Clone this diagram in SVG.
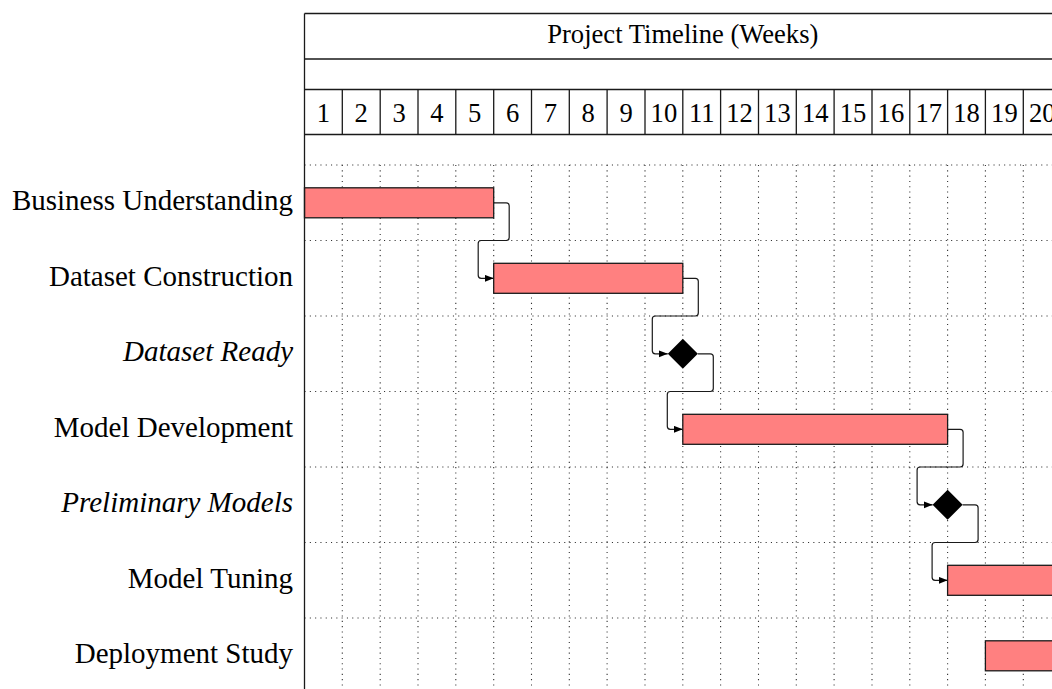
<svg xmlns="http://www.w3.org/2000/svg" width="1052" height="689" viewBox="0 0 1052 689">
  <defs>
    <style>
      .frame { stroke: #1a1a1a; stroke-width: 1.3; fill: none; }
      .grid { stroke: #333; stroke-width: 1.1; stroke-dasharray: 1.1 4.2; fill: none; }
      .bar { fill: #ff8080; stroke: #1a1a1a; stroke-width: 1.3; }
      .ms { fill: #000; }
      .link { stroke: #1a1a1a; stroke-width: 1.2; fill: none; marker-end: url(#latex); }
      .hdr { font-family: "Liberation Serif", "Times New Roman", serif; font-size: 26.6px; fill: #000; text-anchor: middle; }
      .lbl { font-family: "Liberation Serif", "Times New Roman", serif; font-size: 29px; fill: #000; text-anchor: end; }
      .it { font-style: italic; }
    </style>
    <marker id="latex" markerUnits="userSpaceOnUse" markerWidth="10" markerHeight="8" refX="9" refY="3.5" orient="auto">
      <path d="M0,0 L9,3.5 L0,7 Z" fill="#000"/>
    </marker>
  </defs>
  <rect width="1052" height="689" fill="#fff"/>

  <!-- background grid -->
  <g id="grid">
    <path class="grid" d="M304.5,165 H1052 M304.5,240.5 H1052 M304.5,316 H1052 M304.5,391.5 H1052 M304.5,467 H1052 M304.5,542.5 H1052 M304.5,618 H1052"/>
    <path class="grid" d="M342.3,165 V689 M380.2,165 V689 M418,165 V689 M455.8,165 V689 M493.7,165 V689 M531.5,165 V689 M569.3,165 V689 M607.1,165 V689 M645,165 V689 M682.8,165 V689 M720.6,165 V689 M758.5,165 V689 M796.3,165 V689 M834.1,165 V689 M872,165 V689 M909.8,165 V689 M947.6,165 V689 M985.4,165 V689 M1023.3,165 V689"/>
  </g>

  <!-- header: title row and week numbers -->
  <g id="header">
    <path class="frame" d="M304.5,13.5 H1052 M304.5,59 H1052"/>
    <text class="hdr" x="682.8" y="43.3">Project Timeline (Weeks)</text>
    <path class="frame" d="M304.5,89.5 H1052 M304.5,134.5 H1052"/>
    <path class="frame" d="M342.3,89.5 V134.5 M380.2,89.5 V134.5 M418,89.5 V134.5 M455.8,89.5 V134.5 M493.7,89.5 V134.5 M531.5,89.5 V134.5 M569.3,89.5 V134.5 M607.1,89.5 V134.5 M645,89.5 V134.5 M682.8,89.5 V134.5 M720.6,89.5 V134.5 M758.5,89.5 V134.5 M796.3,89.5 V134.5 M834.1,89.5 V134.5 M872,89.5 V134.5 M909.8,89.5 V134.5 M947.6,89.5 V134.5 M985.4,89.5 V134.5 M1023.3,89.5 V134.5"/>
    <g class="hdr">
      <text x="323.4" y="121.7">1</text>
      <text x="361.2" y="121.7">2</text>
      <text x="399.1" y="121.7">3</text>
      <text x="436.9" y="121.7">4</text>
      <text x="474.7" y="121.7">5</text>
      <text x="512.6" y="121.7">6</text>
      <text x="550.4" y="121.7">7</text>
      <text x="588.2" y="121.7">8</text>
      <text x="626.1" y="121.7">9</text>
      <text x="663.9" y="121.7">10</text>
      <text x="701.7" y="121.7">11</text>
      <text x="739.5" y="121.7">12</text>
      <text x="777.4" y="121.7">13</text>
      <text x="815.2" y="121.7">14</text>
      <text x="853" y="121.7">15</text>
      <text x="890.9" y="121.7">16</text>
      <text x="928.7" y="121.7">17</text>
      <text x="966.5" y="121.7">18</text>
      <text x="1004.4" y="121.7">19</text>
      <text x="1042.2" y="121.7">20</text>
    </g>
  </g>

  <!-- dependency links -->
  <g id="connectors">
    <path class="link" d="M493.7,202.8 H506.2 Q509.2,202.8 509.2,205.8 V237.5 Q509.2,240.5 506.2,240.5 H481.2 Q478.2,240.5 478.2,243.5 V275.3 Q478.2,278.3 481.2,278.3 H493.7"/>
    <path class="link" d="M682.8,278.3 H695.3 Q698.3,278.3 698.3,281.3 V313 Q698.3,316 695.3,316 H655.3 Q652.3,316 652.3,319 V350.8 Q652.3,353.8 655.3,353.8 H667.8"/>
    <path class="link" d="M697.8,353.8 H710.3 Q713.3,353.8 713.3,356.8 V388.5 Q713.3,391.5 710.3,391.5 H670.3 Q667.3,391.5 667.3,394.5 V426.3 Q667.3,429.3 670.3,429.3 H682.8"/>
    <path class="link" d="M947.6,429.3 H960.1 Q963.1,429.3 963.1,432.3 V464 Q963.1,467 960.1,467 H920.1 Q917.1,467 917.1,470 V501.8 Q917.1,504.8 920.1,504.8 H932.6"/>
    <path class="link" d="M962.6,504.8 H975.1 Q978.1,504.8 978.1,507.8 V539.5 Q978.1,542.5 975.1,542.5 H935.1 Q932.1,542.5 932.1,545.5 V577.3 Q932.1,580.3 935.1,580.3 H947.6"/>
  </g>

  <g id="business-understanding">
    <text class="lbl" x="293" y="210">Business Understanding</text>
    <rect class="bar" x="304.5" y="187.8" width="189.2" height="30"/>
  </g>
  <g id="dataset-construction">
    <text class="lbl" x="293" y="285.5">Dataset Construction</text>
    <rect class="bar" x="493.7" y="263.3" width="189.1" height="30"/>
  </g>
  <g id="dataset-ready">
    <text class="lbl it" x="293" y="361">Dataset Ready</text>
    <path class="ms" d="M682.8,338.8 L697.8,353.8 L682.8,368.8 L667.8,353.8 Z"/>
  </g>
  <g id="model-development">
    <text class="lbl" x="293" y="436.5">Model Development</text>
    <rect class="bar" x="682.8" y="414.3" width="264.8" height="30"/>
  </g>
  <g id="preliminary-models">
    <text class="lbl it" x="293" y="512">Preliminary Models</text>
    <path class="ms" d="M947.6,489.8 L962.6,504.8 L947.6,519.8 L932.6,504.8 Z"/>
  </g>
  <g id="model-tuning">
    <text class="lbl" x="293" y="587.5">Model Tuning</text>
    <rect class="bar" x="947.6" y="565.3" width="120" height="30"/>
  </g>
  <g id="deployment-study">
    <text class="lbl" x="293" y="663">Deployment Study</text>
    <rect class="bar" x="985.4" y="640.8" width="90" height="30"/>
  </g>

  <!-- left edge of chart -->
  <path class="frame" d="M304.5,13.5 V689"/>
</svg>
